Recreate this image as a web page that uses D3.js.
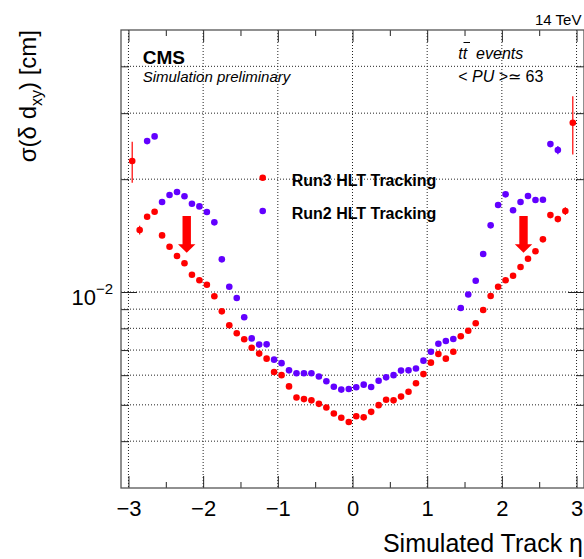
<!DOCTYPE html>
<html>
<head>
<meta charset="utf-8">
<script src="https://cdn.jsdelivr.net/npm/d3@7"></script>
<style>
html, body { margin: 0; padding: 0; background: #fff; overflow: hidden; }
svg { display: block; font-family: "Liberation Sans", Arial, Helvetica, sans-serif; }
</style>
</head>
<body>
<svg id="chart"></svg>
<script>
// bin centres in eta
const etaBins = [-2.95, -2.85, -2.75, -2.65, -2.55, -2.45, -2.35, -2.25, -2.15, -2.05,
                 -1.95, -1.85, -1.75, -1.65, -1.55, -1.45, -1.35, -1.25, -1.15, -1.05,
                 -0.95, -0.85, -0.75, -0.65, -0.55, -0.45, -0.35, -0.25, -0.15, -0.05,
                  0.05,  0.15,  0.25,  0.35,  0.45,  0.55,  0.65,  0.75,  0.85,  0.95,
                  1.05,  1.15,  1.25,  1.35,  1.45,  1.55,  1.65,  1.75,  1.85,  1.95,
                  2.05,  2.15,  2.25,  2.35,  2.45,  2.55,  2.65,  2.75,  2.85,  2.95];

const run3Sigma = [0.02236, 0.01463, 0.01588, 0.01637, 0.01416, 0.01321, 0.01247, 0.01193, 0.01112, 0.01075,
                   0.01046, 0.00974, 0.00888, 0.00815, 0.00776, 0.00748, 0.00710, 0.00685, 0.00664, 0.00612,
                   0.00600, 0.00560, 0.00523, 0.00518, 0.00514, 0.00503, 0.00492, 0.00474, 0.00462, 0.00450,
                   0.00466, 0.00463, 0.00479, 0.00499, 0.00516, 0.00514, 0.00526, 0.00542, 0.00571, 0.00604,
                   0.00648, 0.00683, 0.00664, 0.00693, 0.00762, 0.00788, 0.00825, 0.00895, 0.00976, 0.01033,
                   0.01075, 0.01105, 0.01166, 0.01227, 0.01284, 0.01382, 0.01604, 0.01565, 0.01644, 0.02828];

const run3Err = [0.0028, 0.0004, 0, 0, 0, 0, 0, 0, 0, 0,
                 0, 0, 0, 0, 0, 0, 0, 0, 0, 0,
                 0, 0, 0, 0, 0, 0, 0, 0, 0, 0,
                 0, 0, 0, 0, 0, 0, 0, 0, 0, 0,
                 0, 0, 0, 0, 0, 0, 0, 0, 0, 0,
                 0, 0, 0, 0, 0, 0, 0, 0, 0.0004, 0.005];

const run2Sigma = [null, null, 0.02527, 0.02601, 0.01738, 0.01814, 0.01848, 0.01800, 0.01720, 0.01692,
                   0.01634, 0.01534, 0.01222, 0.01033, 0.00964, 0.00856, 0.00752, 0.00724, 0.00725, 0.00660,
                   0.00646, 0.00618, 0.00607, 0.00607, 0.00607, 0.00595, 0.00578, 0.00559, 0.00549, 0.00551,
                   0.00557, 0.00566, 0.00558, 0.00580, 0.00592, 0.00600, 0.00617, 0.00618, 0.00625, 0.00656,
                   0.00693, 0.00728, 0.00740, 0.00749, 0.00906, 0.00985, 0.01072, 0.01263, 0.01506, 0.01706,
                   0.01822, 0.01652, 0.01738, 0.01803, 0.01759, 0.01762, 0.02481, 0.02391, null, null];

const run2Err = [0, 0, 0, 0, 0, 0, 0, 0, 0, 0,
                 0, 0, 0, 0, 0, 0, 0, 0, 0, 0,
                 0, 0, 0, 0, 0, 0, 0, 0, 0, 0,
                 0, 0, 0, 0, 0, 0, 0, 0, 0, 0,
                 0, 0, 0, 0, 0, 0, 0, 0, 0, 0,
                 0, 0, 0, 0, 0, 0, 0, 0.0006, 0, 0];

const xMajorTicks = [-3, -2, -1, 0, 1, 2, 3];
const xMinorTicks = [-2.5, -1.5, -0.5, 0.5, 1.5, 2.5];
const yMajorTicks = [0.01];
const yMinorTicks = [0.004, 0.005, 0.006, 0.007, 0.008, 0.009, 0.02, 0.03, 0.04];
const seriesNames = ["Run3 HLT Tracking", "Run2 HLT Tracking"];
const arrowEta = [-2.22, 2.29];
const arrowSpan = [0.01595, 0.01273];

class ResolutionPlot {

    constructor( config, data ) {
        this.config = {
            parent: config.parent,
            width: config.width || 584,
            height: config.height || 559,
            margin: config.margin || {top:30, right:0, bottom:71, left:121}
        }
        this.data = data;
        this.init();
    }

    init() {
        let self = this;

        self.svg = d3.select( self.config.parent )
            .attr('width', self.config.width)
            .attr('height', self.config.height);

        self.inner_width = self.config.width - self.config.margin.left - self.config.margin.right;
        self.inner_height = self.config.height - self.config.margin.top - self.config.margin.bottom;

        self.chart = self.svg.append('g')
            .attr('transform', `translate(${self.config.margin.left}, ${self.config.margin.top})`);

        self.xscale = d3.scaleLinear()
            .domain( [-3.1, 3.1] )
            .range( [0, self.inner_width] );

        self.yscale = d3.scaleLog()
            .domain( [0.003, 0.05] )
            .range( [self.inner_height, 0] );

        self.grid_group = self.chart.append('g');
        self.axis_group = self.chart.append('g').style('color', '#222');
        self.mark_group = self.chart.append('g');
        self.text_group = self.svg.append('g');
    }

    update() {
        let self = this;
        self.series = [
            { name: seriesNames[0], color: '#ff0000',
              points: etaBins.map( (e, i) => ({ eta: e, v: run3Sigma[i], err: run3Err[i] }) ) },
            { name: seriesNames[1], color: '#6200ff',
              points: etaBins.map( (e, i) => ({ eta: e, v: run2Sigma[i], err: run2Err[i] }) )
                             .filter( d => d.v !== null ) }
        ];
        self.render();
    }

    render() {
        let self = this;
        const W = self.inner_width, H = self.inner_height;

        // dotted grid
        self.grid_group.selectAll('line.vgrid')
            .data(xMajorTicks)
            .join('line')
            .attr('class', 'vgrid')
            .attr('x1', d => self.xscale(d)).attr('x2', d => self.xscale(d))
            .attr('y1', 0).attr('y2', H);

        self.grid_group.selectAll('line.hgrid')
            .data(yMajorTicks.concat(yMinorTicks))
            .join('line')
            .attr('class', 'hgrid')
            .attr('x1', 0).attr('x2', W)
            .attr('y1', d => self.yscale(d)).attr('y2', d => self.yscale(d));

        self.grid_group.selectAll('line')
            .attr('stroke', '#222')
            .attr('stroke-width', 1)
            .attr('stroke-dasharray', '1,2');

        // axes, ticks inward on all four sides
        const noDomain = g => g.select('.domain').remove();
        const ax = self.axis_group;

        const xBottom = ax.append('g')
            .attr('transform', `translate(0, ${H})`)
            .call( d3.axisBottom(self.xscale).tickValues(xMajorTicks)
                .tickSizeInner(-12).tickSizeOuter(0).tickPadding(12)
                .tickFormat(d3.format('d')) )
            .call(noDomain);
        xBottom.selectAll('text')
            .attr('font-size', '22px')
            .attr('font-family', '"Liberation Sans", Arial, sans-serif')
            .attr('fill', '#000');

        ax.append('g').attr('transform', `translate(0, ${H})`)
            .call( d3.axisBottom(self.xscale).tickValues(xMinorTicks)
                .tickSizeInner(-6).tickSizeOuter(0).tickFormat('') )
            .call(noDomain);

        ax.append('g')
            .call( d3.axisTop(self.xscale).tickValues(xMajorTicks)
                .tickSizeInner(-12).tickSizeOuter(0).tickFormat('') )
            .call(noDomain);
        ax.append('g')
            .call( d3.axisTop(self.xscale).tickValues(xMinorTicks)
                .tickSizeInner(-6).tickSizeOuter(0).tickFormat('') )
            .call(noDomain);

        const yLeft = ax.append('g')
            .call( d3.axisLeft(self.yscale).tickValues(yMajorTicks)
                .tickSizeInner(-16).tickSizeOuter(0).tickFormat('') )
            .call(noDomain);
        ax.append('g')
            .call( d3.axisLeft(self.yscale).tickValues(yMinorTicks)
                .tickSizeInner(-8).tickSizeOuter(0).tickFormat('') )
            .call(noDomain);
        ax.append('g').attr('transform', `translate(${W}, 0)`)
            .call( d3.axisRight(self.yscale).tickValues(yMajorTicks)
                .tickSizeInner(-16).tickSizeOuter(0).tickFormat('') )
            .call(noDomain);
        ax.append('g').attr('transform', `translate(${W}, 0)`)
            .call( d3.axisRight(self.yscale).tickValues(yMinorTicks)
                .tickSizeInner(-8).tickSizeOuter(0).tickFormat('') )
            .call(noDomain);

        // 10^-2 label
        const lab = yLeft.selectAll('.tick text')
            .attr('x', -8).attr('dy', null).attr('y', 12)
            .attr('text-anchor', 'end')
            .attr('font-size', '22px')
            .attr('font-family', '"Liberation Sans", Arial, sans-serif')
            .attr('fill', '#000');
        lab.append('tspan').text('10');
        lab.append('tspan').attr('dy', -11).attr('font-size', '15px').text('\u22122');

        // frame
        self.chart.append('rect')
            .attr('x', 0).attr('y', 0)
            .attr('width', W).attr('height', H)
            .attr('fill', 'none')
            .attr('stroke', '#555')
            .attr('stroke-width', 1.3);

        // error bars and markers
        self.series.forEach( s => {
            const g = self.mark_group.append('g');
            g.selectAll('line')
                .data(s.points.filter(d => d.err > 0))
                .join('line')
                .attr('x1', d => self.xscale(d.eta)).attr('x2', d => self.xscale(d.eta))
                .attr('y1', d => self.yscale(d.v - d.err))
                .attr('y2', d => self.yscale(d.v + d.err))
                .attr('stroke', s.color)
                .attr('stroke-width', 1.2);
            g.selectAll('circle')
                .data(s.points)
                .join('circle')
                .attr('cx', d => self.xscale(d.eta))
                .attr('cy', d => self.yscale(d.v))
                .attr('r', 3.3)
                .attr('fill', s.color);
        });

        // arrows
        self.mark_group.selectAll('path.arrow')
            .data(arrowEta)
            .join('path')
            .attr('class', 'arrow')
            .attr('fill', '#ff0000')
            .attr('d', e => {
                const cx = self.xscale(e), y0 = self.yscale(arrowSpan[0]), y1 = self.yscale(arrowSpan[1]);
                const hb = y1 - 8.5;
                return `M${cx-4.2},${y0}L${cx+4.2},${y0}L${cx+4.2},${hb}L${cx+8.7},${hb}` +
                       `L${cx},${y1}L${cx-8.7},${hb}L${cx-4.2},${hb}Z`;
            });

        // legend
        const legend = self.text_group.selectAll('g.legend')
            .data(self.series)
            .join('g')
            .attr('class', 'legend')
            .attr('transform', (d, i) => `translate(262.7, ${177.7 + i * 33.3})`);
        legend.append('circle')
            .attr('r', 3.3)
            .attr('fill', d => d.color);
        legend.append('text')
            .attr('x', 29).attr('y', 8)
            .attr('font-size', '16px')
            .attr('font-weight', 'bold')
            .text(d => d.name);

        // labels
        const T = self.text_group;
        T.append('text')
            .attr('x', 142.7).attr('y', 63.5)
            .attr('font-size', '19px').attr('font-weight', 'bold')
            .text('CMS');
        T.append('text')
            .attr('x', 142.7).attr('y', 82)
            .attr('font-size', '15px').attr('font-style', 'italic')
            .text('Simulation preliminary');
        T.append('text')
            .attr('x', 535).attr('y', 25)
            .attr('font-size', '15px')
            .text('14 TeV');

        T.append('text')
            .attr('x', 458.3).attr('y', 58.5)
            .attr('font-size', '16px').attr('font-style', 'italic')
            .attr('xml:space', 'preserve')
            .text('tt  events');
        T.append('line')
            .attr('x1', 463.5).attr('x2', 470)
            .attr('y1', 42.5).attr('y2', 42.5)
            .attr('stroke', '#000').attr('stroke-width', 1);

        const pu = T.append('text')
            .attr('x', 458.3).attr('y', 81.5)
            .attr('font-size', '16px')
            .attr('xml:space', 'preserve');
        pu.append('tspan').text('< ');
        pu.append('tspan').attr('font-style', 'italic').text('PU');
        pu.append('tspan').text(' >\u2243 63');

        T.append('text')
            .attr('text-anchor', 'end')
            .attr('x', 583).attr('y', 552)
            .attr('font-size', '25px')
            .text('Simulated Track \u03b7');

        const yl = T.append('text')
            .attr('transform', 'translate(36, 30) rotate(-90)')
            .attr('text-anchor', 'end')
            .attr('font-size', '24px')
            .attr('xml:space', 'preserve');
        yl.append('tspan').text('\u03c3(\u03b4 d');
        yl.append('tspan').attr('dy', 6).attr('font-size', '16px').text('xy');
        yl.append('tspan').attr('dy', -6).text(') [cm]');
    }
}

let plot = new ResolutionPlot( { parent: '#chart', width: 584, height: 559 }, null );
plot.update();
</script>
</body>
</html>
